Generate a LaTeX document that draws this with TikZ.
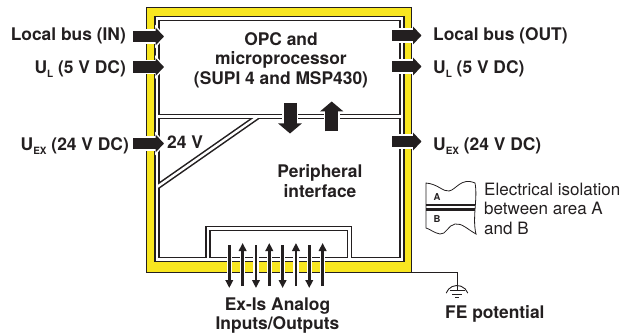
\documentclass[tikz,border=0pt]{standalone}
\usepackage{fontspec}
\setmainfont{TeX Gyre Heros}
\usetikzlibrary{arrows.meta}

\definecolor{ink}{RGB}{35,31,32}
\definecolor{frameyellow}{RGB}{248,230,32}
\newcommand{\lowsub}[1]{\raisebox{-4pt}{\fontsize{10}{10}\selectfont #1}}

\tikzset{
  lbl/.style={font=\fontsize{17.4}{19.5}\selectfont\bfseries, text=ink, inner sep=0pt},
  note/.style={font=\fontsize{17}{19.5}\selectfont, text=ink, inner sep=0pt},
  portarrow/.style={draw=ink, line width=11.5pt,
    -{Triangle[length=8.5pt,width=17.5pt]},
    preaction={draw=white, line width=14.5pt,
      -{Triangle[length=11pt,width=23pt]}, shorten >=-2pt}},
  flowarrow/.style={draw=ink, line width=13pt,
    -{Triangle[length=10pt,width=23pt]},
    preaction={draw=white, line width=16pt,
      -{Triangle[length=12.5pt,width=29pt]}, shorten >=-2pt}},
  ioarrow/.style={draw=ink, line width=2.6pt,
    -{Triangle[length=8pt,width=7.5pt]},
    preaction={draw=white, line width=5.5pt,
      -{Triangle[length=10.5pt,width=11.5pt]}, shorten >=-1.8pt}},
}

\begin{document}
\begin{tikzpicture}[x=1pt,y=-1pt]
\useasboundingbox (0,0) rectangle (632,334);
% yellow housing
\coordinate (frameTL) at (146.5,7.5);
\coordinate (frameBR) at (411.5,272.5);
\coordinate (wallTL) at (157,18.5);
\coordinate (wallBR) at (402,259.5);
\fill[frameyellow] (frameTL) rectangle (frameBR);
\draw[ink, line width=1.4pt] (frameTL) rectangle (frameBR);
\fill[white] (wallTL) rectangle (wallBR);
% isolation walls: black pass, then white pass
\foreach \c/\w in {ink/5.5pt, white/2.4pt}{
  \draw[draw=\c, line width=\w] (wallTL) rectangle (wallBR);
  \draw[draw=\c, line width=\w] (157,116.5) -- (402,116.5);
  \draw[draw=\c, line width=\w] (157,187) -- (258,116.5);
  \draw[draw=\c, line width=\w] (208,259.5) -- (208,228.5) -- (349.5,228.5) -- (349.5,259.5);
}

% ports
\coordinate (busin-a) at (133,36.5);  \coordinate (busin-b) at (164,36.5);
\coordinate (ulin-a) at (133,67);     \coordinate (ulin-b) at (164,67);
\coordinate (uexin-a) at (133,143.5); \coordinate (uexin-b) at (164,143.5);
\coordinate (busout-a) at (392,35.5);  \coordinate (busout-b) at (421.5,35.5);
\coordinate (ulout-a) at (392,66.5);   \coordinate (ulout-b) at (421.5,66.5);
\coordinate (uexout-a) at (392,141.5); \coordinate (uexout-b) at (421.5,141.5);
\draw[portarrow] (busin-a) -- (busin-b);
\draw[portarrow] (ulin-a) -- (ulin-b);
\draw[portarrow] (uexin-a) -- (uexin-b);
\draw[portarrow] (busout-a) -- (busout-b);
\draw[portarrow] (ulout-a) -- (ulout-b);
\draw[portarrow] (uexout-a) -- (uexout-b);
% data between the two areas
\coordinate (down-a) at (290,103);  \coordinate (down-b) at (290,133.5);
\coordinate (up-a) at (331.7,131.5); \coordinate (up-b) at (331.7,101.5);
\draw[flowarrow] (down-a) -- (down-b);
\draw[flowarrow] (up-a) -- (up-b);
% analog channels
\foreach \i in {0,...,7}{
  \pgfmathsetmacro{\xx}{229.3+13.33*\i}
  \ifodd\i
    \coordinate (io\i-a) at (\xx,286); \coordinate (io\i-b) at (\xx,243);
  \else
    \coordinate (io\i-a) at (\xx,245); \coordinate (io\i-b) at (\xx,288);
  \fi
  \draw[ioarrow] (io\i-a) -- (io\i-b);
}

% labels
\node[lbl, anchor=base east] (busin) at (126,41) {Local bus (IN)};
\node[lbl, anchor=base east] (ulin) at (126,74) {U\lowsub{L} (5 V DC)};
\node[lbl, anchor=base east] (uexin) at (129,150.5) {U\lowsub{EX} (24 V DC)};
\node[lbl, anchor=base west] (busout) at (433,41) {Local bus (OUT)};
\node[lbl, anchor=base west] (ulout) at (433,74) {U\lowsub{L} (5 V DC)};
\node[lbl, anchor=base west] (uexout) at (433,150) {U\lowsub{EX} (24 V DC)};
\node[lbl, align=center, anchor=north] (opc) at (281,32.2) {OPC and\\microprocessor\\(SUPI 4 and MSP430)};
\node[lbl, anchor=base west] (exv) at (167,148.5) {24 V};
\node[lbl, align=center, anchor=north] (periph) at (320,164.4) {Peripheral\\interface};
\node[lbl, align=center, anchor=north] (analog) at (277.5,297.4) {Ex-Is Analog\\Inputs/Outputs};

% FE connection
\coordinate (fe) at (457,290);
\draw[ink, line width=0.9pt] (frameBR) -- (frameBR -| fe) -- (fe);
\draw[ink, line width=0.9pt] (457,297) ++(200:11.5) arc[start angle=200, end angle=340, radius=11.5];
\draw[ink, line width=0.9pt] (449.5,290) -- (464.5,290) (452,294) -- (462,294) (455,297.5) -- (459,297.5);
\node[lbl, anchor=base west] (fepot) at (445,318) {FE potential};

% legend
\draw[ink, line width=0.8pt] (426,183) .. controls (438,184) and (443,192) .. (449,191)
  .. controls (456,190) and (461,177) .. (475,183)
  .. controls (478,198) and (472,218) .. (476,234)
  .. controls (467,229) and (462,223) .. (455,224)
  .. controls (448,225) and (446,235) .. (440,234)
  .. controls (434,233) and (430,229) .. (426,228) -- cycle;
\draw[ink, line width=2.6pt] (426,205) -- (475,205) (426,209.5) -- (475,209.5);
\node[font=\fontsize{9.5}{10}\selectfont\bfseries, text=ink] (areaA) at (437,197.5) {A};
\node[font=\fontsize{9.5}{10}\selectfont\bfseries, text=ink] (areaB) at (437,219) {B};
\node[note, align=left, anchor=north west] (isol) at (484,182.6) {Electrical isolation\\between area A\\and B};
\end{tikzpicture}
\end{document}
